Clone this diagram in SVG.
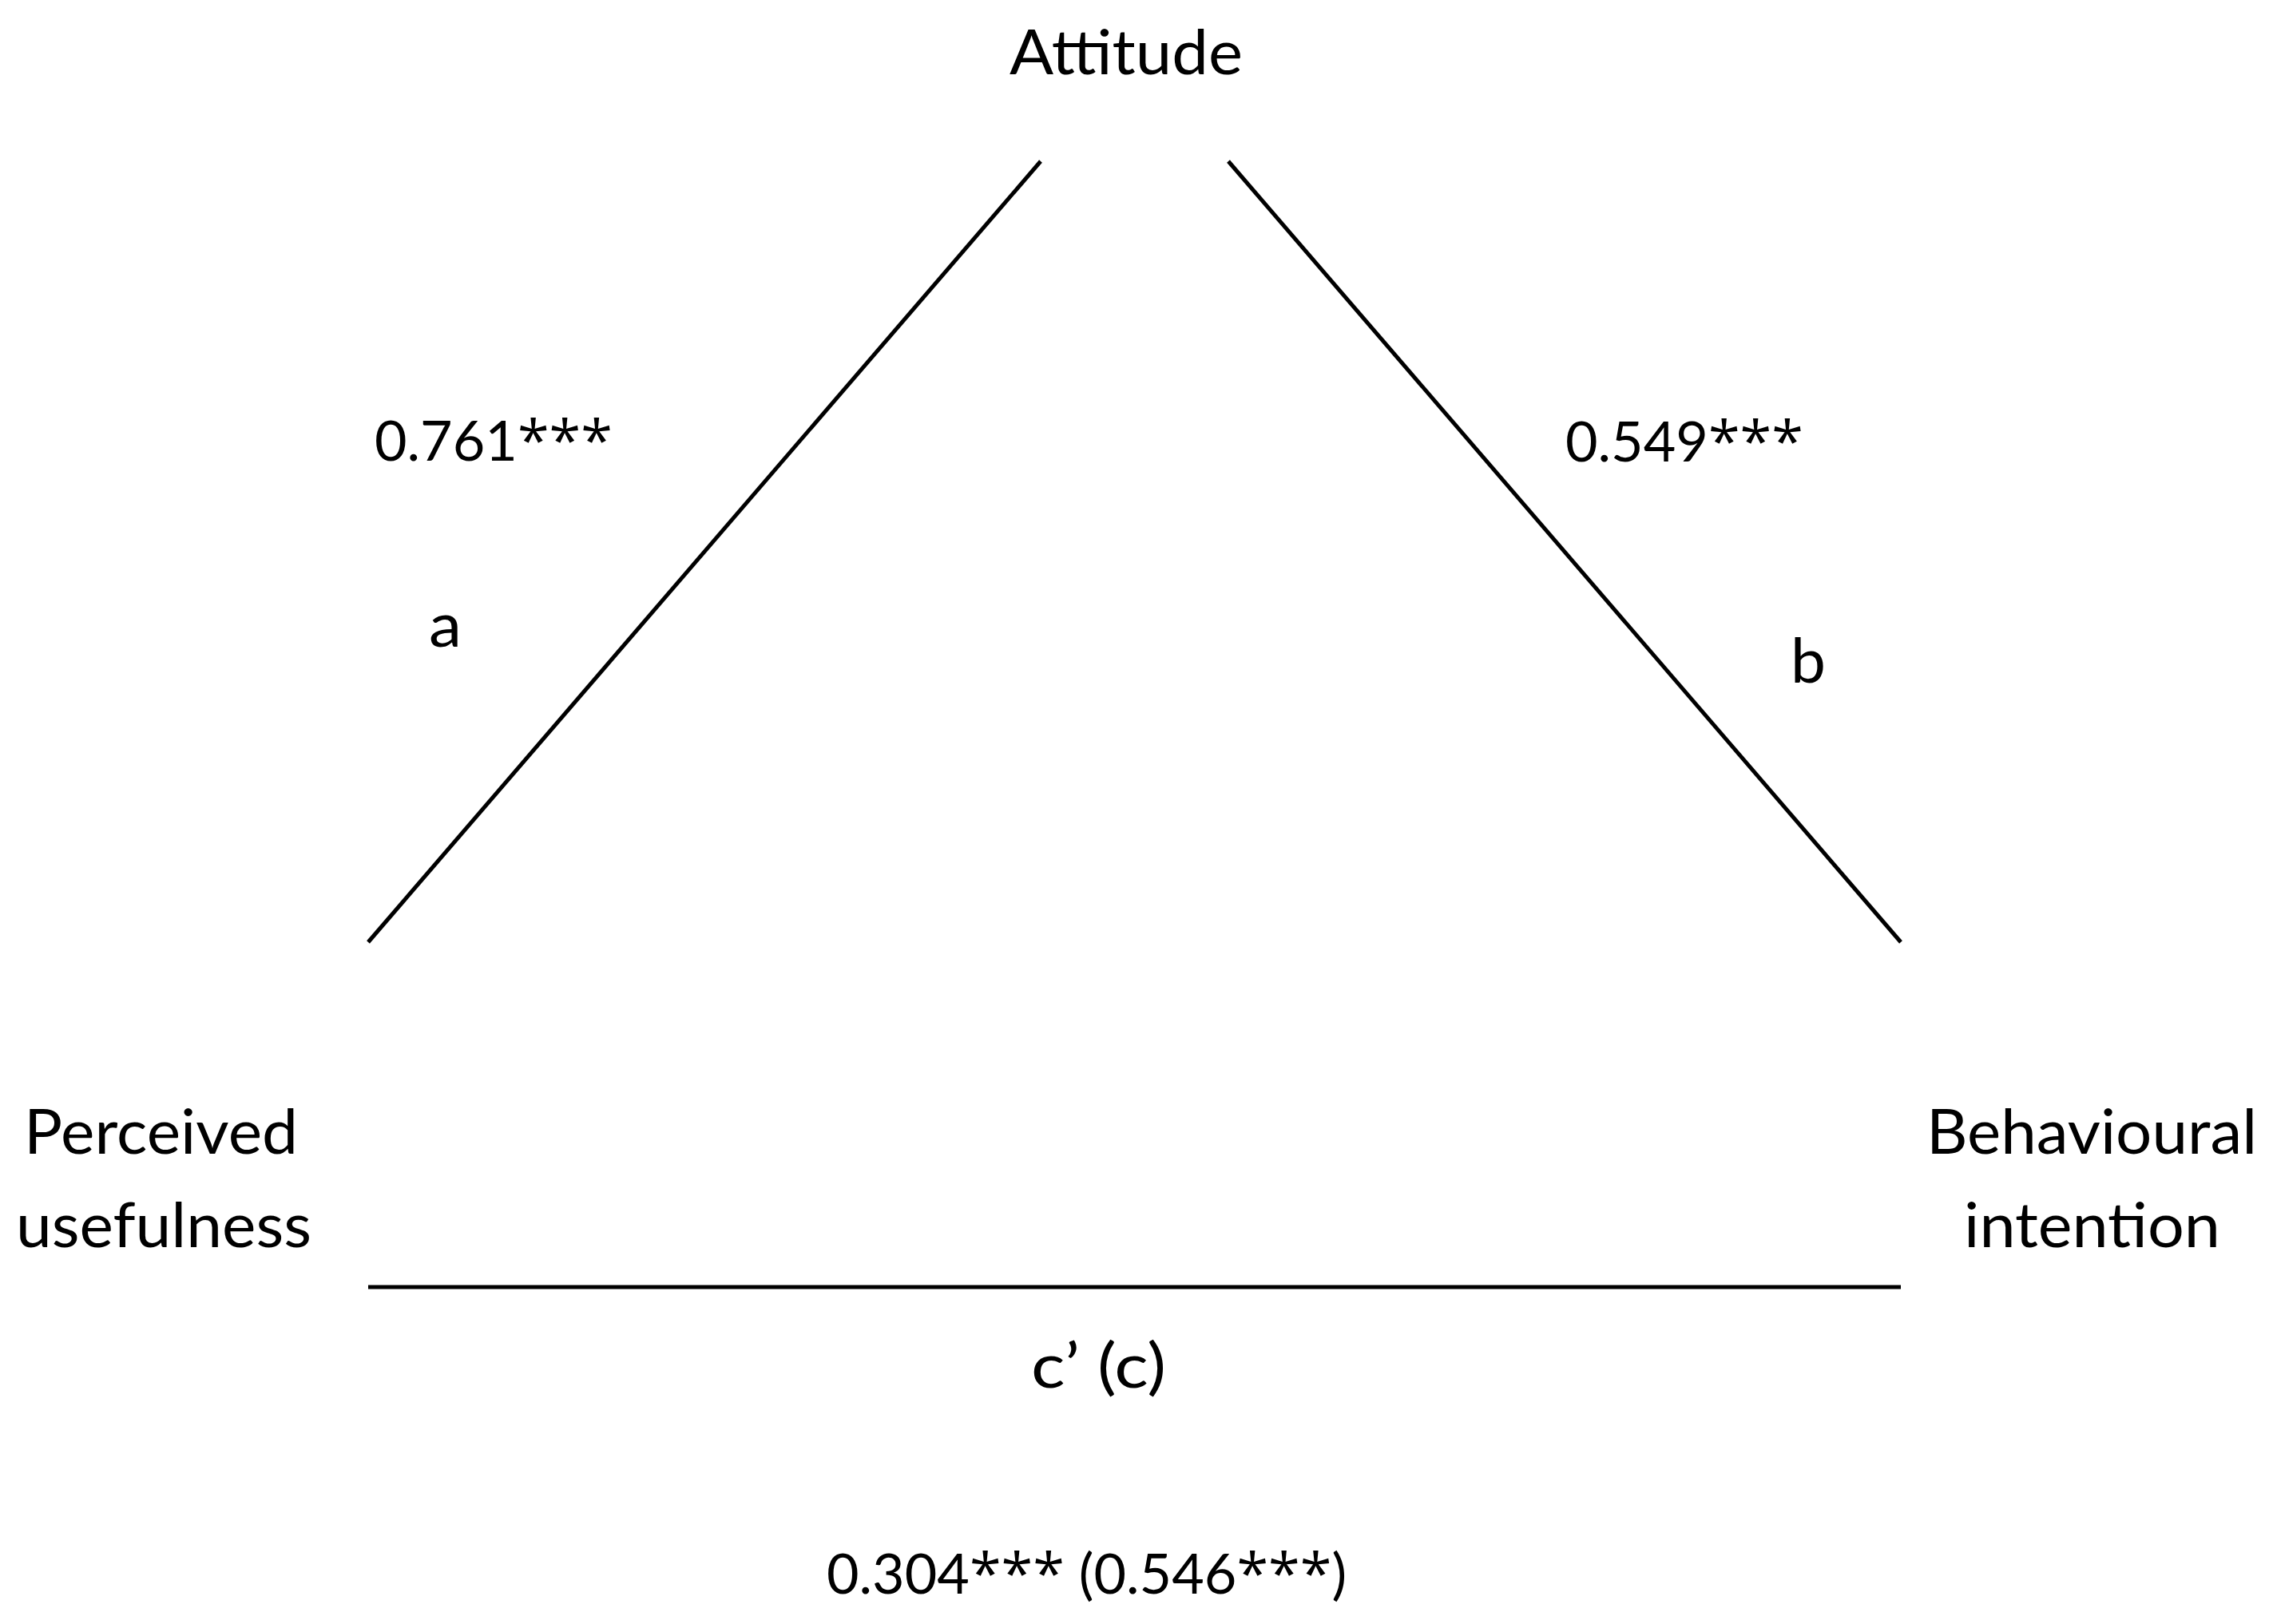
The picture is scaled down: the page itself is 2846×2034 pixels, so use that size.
<svg xmlns="http://www.w3.org/2000/svg" width="2846" height="2034" viewBox="0 0 2846 2034">
<style>
.lbl{font-family:Lato,"Open Sans","Liberation Sans",sans-serif;font-size:78px;fill:#000;}
.num{font-family:Lato,"Open Sans","Liberation Sans",sans-serif;font-size:70px;font-weight:400;fill:#000;}
.ast{font-family:"Open Sans","Liberation Sans",sans-serif;font-size:72px;font-weight:400;}
.edge{stroke:#000;stroke-width:5;fill:none;stroke-linecap:butt;}
</style>
<rect width="2846" height="2034" fill="#fff"/>
<g id="node-attitude">
<text class="lbl" x="1264" y="93" textLength="292" lengthAdjust="spacingAndGlyphs">Attitude</text>
</g>
<g id="node-perceived-usefulness">
<text class="lbl" x="30" y="1445" textLength="343" lengthAdjust="spacingAndGlyphs">Perceived</text>
<text class="lbl" x="20" y="1562" textLength="370" lengthAdjust="spacingAndGlyphs">usefulness</text>
</g>
<g id="node-behavioural-intention">
<text class="lbl" x="2412" y="1445" textLength="414" lengthAdjust="spacingAndGlyphs">Behavioural</text>
<text class="lbl" x="2459" y="1562" textLength="321" lengthAdjust="spacingAndGlyphs">intention</text>
</g>
<g id="connectors">
<line class="edge" x1="461" y1="1180" x2="1303" y2="202"/>
<line class="edge" x1="1538" y1="202" x2="2380" y2="1180"/>
<line class="edge" x1="461" y1="1612" x2="2380" y2="1612"/>
</g>
<g id="edge-labels">
<text class="num" x="469" y="577">0.761<tspan class="ast">***</tspan></text>
<text class="lbl" x="537" y="810" textLength="41" lengthAdjust="spacingAndGlyphs">a</text>
<text class="num" x="1960" y="578">0.549<tspan class="ast">***</tspan></text>
<text class="lbl" x="2242" y="855" textLength="44" lengthAdjust="spacingAndGlyphs">b</text>
<text class="lbl" x="1291" y="1738" textLength="169" lengthAdjust="spacingAndGlyphs">c’ (c)</text>
<text class="num" x="1035" y="1996">0.304<tspan class="ast">***</tspan> (0.546<tspan class="ast">***</tspan>)</text>
</g>
</svg>
